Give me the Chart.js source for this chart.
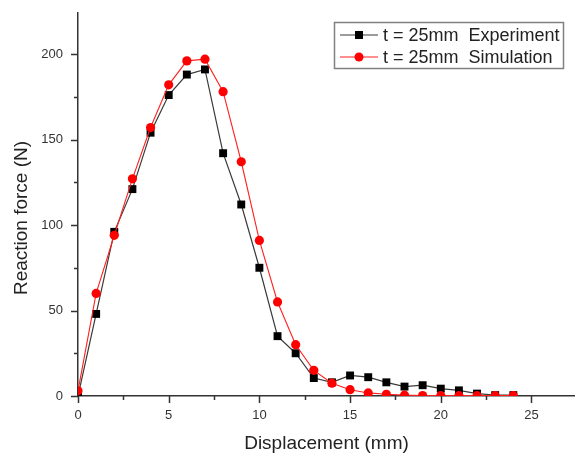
<!DOCTYPE html>
<html>
<head>
<meta charset="utf-8">
<script src="https://cdn.jsdelivr.net/npm/chart.js@4"></script>
<style>
html,body{margin:0;padding:0;background:#fff;}
#wrap{width:575px;height:455px;}
</style>
</head>
<body>
<div id="wrap"><canvas id="c" width="575" height="455"></canvas></div>
<script>
const displacement = [0,1,2,3,4,5,6,7,8,9,10,11,12,13,14,15,16,17,18,19,20,21,22,23,24];
const experiment = [0,48,96,121,154,176,188,191,142,112,75,35,25,10.5,8,12,11,8,5.5,6.3,4.3,3.3,1.4,0.5,0.5];
const simulation = [3,60,94,127,157,182,196,197,178,137,91,55,30,15,7.5,3.7,1.8,1,0.5,0.3,0.2,0.2,0.2,0.2,0.2];
const seriesLabels = ['t = 25mm  Experiment', 't = 25mm  Simulation'];
const xTitle = 'Displacement (mm)';
const yTitle = 'Reaction force (N)';
const xTicks = [0,5,10,15,20,25];
const yTicks = [0,50,100,150,200];

const FONT = "'Liberation Sans', Arial, sans-serif";
const pts = (ys) => displacement.map((x,i)=>({x:x,y:ys[i]}));

const extras = {
  id:'extras',
  afterDraw(chart){
    const ctx = chart.ctx, xs = chart.scales.x, ys = chart.scales.y;
    const ca = chart.chartArea;
    ctx.save();
    ctx.strokeStyle = '#333';
    ctx.lineWidth = 1.5;
    for (let v = 0; v <= xs.max; v += 2.5) {
      const px = Math.round(xs.getPixelForValue(v)) + 0.5;
      const len = (v % 5 === 0) ? 7 : 4;
      ctx.beginPath(); ctx.moveTo(px, ca.bottom); ctx.lineTo(px, ca.bottom + len); ctx.stroke();
    }
    for (let v = 0; v <= ys.max; v += 25) {
      const py = Math.round(ys.getPixelForValue(v)) + 0.5;
      const len = (v % 50 === 0) ? 7 : 4;
      ctx.beginPath(); ctx.moveTo(ca.left, py); ctx.lineTo(ca.left - len, py); ctx.stroke();
    }
    ctx.fillStyle = '#222';
    ctx.font = '19px ' + FONT;
    ctx.textAlign = 'center';
    ctx.textBaseline = 'middle';
    ctx.translate(22, 218);
    ctx.rotate(-Math.PI/2);
    ctx.fillText(yTitle, 0, 0);
    ctx.restore();

    ctx.save();
    const bx = 334.5, by = 22.5, bw = 229, bh = 46;
    ctx.fillStyle = '#fff';
    ctx.fillRect(bx, by, bw, bh);
    ctx.strokeStyle = '#808080';
    ctx.lineWidth = 1.5;
    ctx.strokeRect(bx, by, bw, bh);
    const rows = [35, 57];
    chart.data.datasets.forEach((ds, i) => {
      const y = rows[i];
      ctx.strokeStyle = ds.borderColor;
      ctx.lineWidth = 1.2;
      ctx.beginPath(); ctx.moveTo(340, y); ctx.lineTo(378, y); ctx.stroke();
      ctx.fillStyle = ds.pointBackgroundColor;
      if (ds.pointStyle === 'rect') {
        ctx.fillRect(355, y-4, 8, 8);
      } else {
        ctx.beginPath(); ctx.arc(359, y, 4.5, 0, Math.PI*2); ctx.fill();
      }
      ctx.fillStyle = '#222';
      ctx.font = '18px ' + FONT;
      ctx.textAlign = 'left';
      ctx.textBaseline = 'middle';
      ctx.fillText(ds.label, 383, y + 1);
    });
    ctx.restore();
  }
};

new Chart(document.getElementById('c'), {
  type: 'scatter',
  data: {
    datasets: [
      {
        label: seriesLabels[0],
        data: pts(experiment),
        showLine: true,
        borderColor: '#3a3a3a',
        borderWidth: 1.2,
        pointStyle: 'rect',
        pointRadius: 5.6,
        pointBackgroundColor: '#000',
        pointBorderColor: '#000',
        pointBorderWidth: 0,
        order: 2
      },
      {
        label: seriesLabels[1],
        data: pts(simulation),
        showLine: true,
        borderColor: '#ff2020',
        borderWidth: 1.1,
        pointStyle: 'circle',
        pointRadius: 4.6,
        pointBackgroundColor: '#ff0000',
        pointBorderColor: '#ff0000',
        pointBorderWidth: 0,
        order: 1
      }
    ]
  },
  options: {
    responsive: false,
    animation: false,
    events: [],
    layout: { autoPadding: false, padding: { top: 13, right: 0, left: 0, bottom: 0 } },
    plugins: { legend: { display: false }, tooltip: { enabled: false } },
    scales: {
      x: {
        type: 'linear',
        min: 0, max: 27.4,
        afterFit(s){ s.height = 59; s.paddingLeft = 0; s.paddingRight = 0; },
        afterBuildTicks(s){ s.ticks = xTicks.map(v=>({value:v})); },
        grid: { display: false, drawTicks: false },
        border: { display: true, color: '#333', width: 1.5 },
        ticks: { padding: 12, color: '#333', font: { family: FONT, size: 13 }, maxRotation: 0 },
        title: { display: true, text: xTitle, color: '#222', font: { family: FONT, size: 19 }, padding: { top: 0, bottom: 0 } }
      },
      y: {
        type: 'linear',
        min: 0, max: 224,
        afterFit(s){ s.width = 78; s.paddingTop = 0; s.paddingBottom = 0; },
        afterBuildTicks(s){ s.ticks = yTicks.map(v=>({value:v})); },
        grid: { display: false, drawTicks: false },
        border: { display: true, color: '#333', width: 1.5 },
        ticks: { padding: 15, color: '#333', font: { family: FONT, size: 13 } }
      }
    }
  },
  plugins: [extras]
});
</script>
</body>
</html>
